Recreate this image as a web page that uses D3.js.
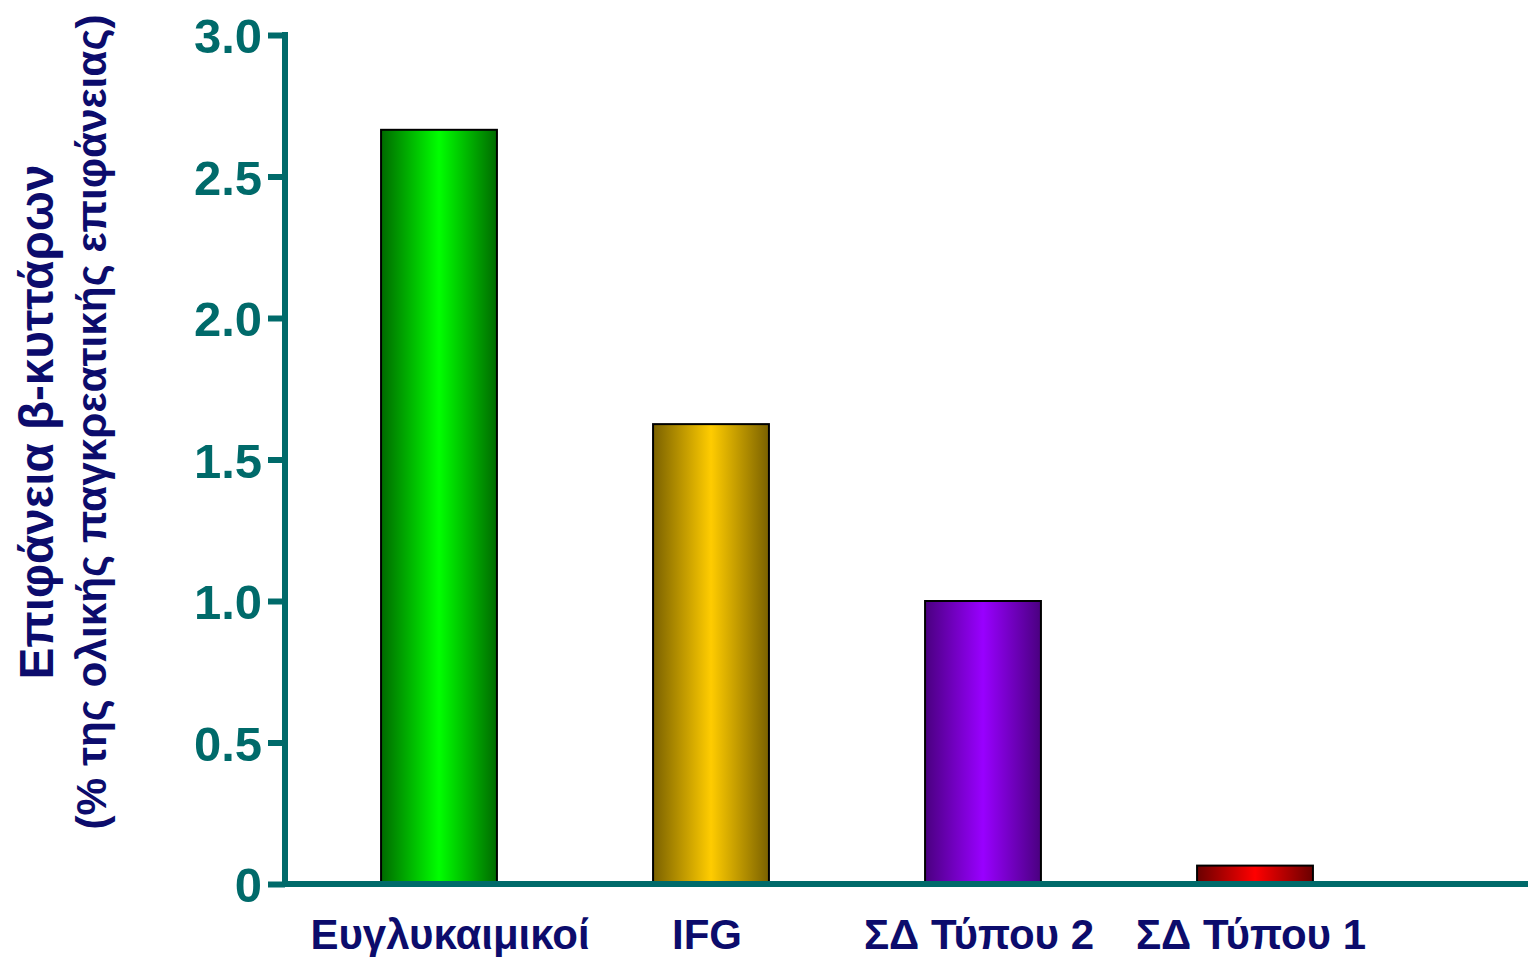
<!DOCTYPE html>
<html>
<head>
<meta charset="utf-8">
<script src="https://cdn.jsdelivr.net/npm/d3@7"></script>
<style>
  body { margin: 0; background: #fff; }
  text { font-family: "Liberation Sans", Arial, sans-serif; font-weight: bold; }
</style>
</head>
<body>
<div id="chart"></div>
<script>
// data
const groups = ["Ευγλυκαιμικοί", "IFG", "ΣΔ Τύπου 2", "ΣΔ Τύπου 1"];
const betaArea = [2.665, 1.625, 1.0, 0.065];
const yTicks = [0, 0.5, 1.0, 1.5, 2.0, 2.5, 3.0];
const barEdge = ["#006a00", "#7a6100", "#4a0080", "#6a0000"];
const barMid = ["#00ff00", "#ffcc00", "#9900ff", "#ff0000"];

const width = 1528, height = 957,
    teal = "#006a6a", navy = "#0c0c6c";

const svg = d3.select("#chart").append("svg")
    .attr("width", width)
    .attr("height", height);

const x = d3.scaleBand()
    .domain(groups)
    .range([303, 1391])
    .paddingInner(0.574)
    .paddingOuter(0.287);

const y = d3.scaleLinear()
    .domain([0, 3])
    .range([884, 35]);

// gradients
const defs = svg.append("defs");
groups.forEach((g, i) => {
    const grad = defs.append("linearGradient")
        .attr("id", "grad" + i)
        .attr("x1", "0%").attr("x2", "100%")
        .attr("y1", "0%").attr("y2", "0%");
    grad.append("stop").attr("offset", "0%").attr("stop-color", barEdge[i]);
    grad.append("stop").attr("offset", "50%").attr("stop-color", barMid[i]);
    grad.append("stop").attr("offset", "100%").attr("stop-color", barEdge[i]);
});

const data = groups.map((g, i) => ({group: g, value: betaArea[i], i: i}));

svg.selectAll("rect.bar")
    .data(data)
    .join("rect")
    .attr("class", "bar")
    .attr("x", d => x(d.group))
    .attr("y", d => y(d.value))
    .attr("width", x.bandwidth())
    .attr("height", d => y(0) - y(d.value))
    .attr("fill", d => "url(#grad" + d.i + ")")
    .attr("stroke", "#000")
    .attr("stroke-width", 2);

// y axis
const yAxis = svg.append("g")
    .attr("transform", "translate(285,0)")
    .call(d3.axisLeft(y)
        .tickValues(yTicks)
        .tickSize(17)
        .tickSizeOuter(0)
        .tickPadding(6)
        .tickFormat(d => d === 0 ? "0" : d3.format(".1f")(d)));
yAxis.select(".domain")
    .attr("stroke", teal)
    .attr("stroke-width", 6)
    .attr("d", "M0," + (y(3) - 3) + "V" + (y(0) + 2));
yAxis.selectAll(".tick line")
    .attr("stroke", teal)
    .attr("stroke-width", 6);
yAxis.selectAll(".tick text")
    .attr("fill", teal)
    .attr("font-size", 49)
    .attr("dy", "0.36em")
    .style("font-family", "'Liberation Sans', Arial, sans-serif")
    .style("font-weight", "bold");

// x axis line
svg.append("line")
    .attr("x1", 283).attr("x2", width)
    .attr("y1", y(0)).attr("y2", y(0))
    .attr("stroke", teal)
    .attr("stroke-width", 6);

// x labels
svg.selectAll("text.xlab")
    .data(data)
    .join("text")
    .attr("class", "xlab")
    .attr("x", d => x(d.group) + x.bandwidth() / 2 + (d.i === 0 ? 11 : -4))
    .attr("y", 949)
    .attr("text-anchor", "middle")
    .attr("fill", navy)
    .attr("font-size", 42)
    .text(d => d.group);

// y title
const title = svg.append("g")
    .attr("transform", "translate(0,422) rotate(-90)");
title.append("text")
    .attr("x", 0).attr("y", 53)
    .attr("text-anchor", "middle")
    .attr("fill", navy)
    .attr("font-size", 48)
    .attr("textLength", 515)
    .attr("lengthAdjust", "spacingAndGlyphs")
    .text("Επιφάνεια β-κυττάρων");
title.append("text")
    .attr("x", 0).attr("y", 106)
    .attr("text-anchor", "middle")
    .attr("fill", navy)
    .attr("font-size", 42)
    .attr("textLength", 815)
    .attr("lengthAdjust", "spacingAndGlyphs")
    .text("(% της ολικής παγκρεατικής επιφάνειας)");
</script>
</body>
</html>
